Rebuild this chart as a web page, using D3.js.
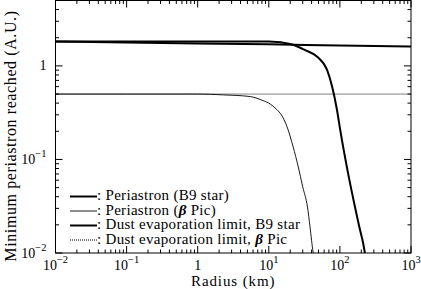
<!DOCTYPE html>
<html>
<head>
<meta charset="utf-8">
<script src="https://cdn.jsdelivr.net/npm/d3@7"></script>
<style>
body { margin: 0; background: #fff; overflow: hidden; }
svg { display: block; }
</style>
</head>
<body>
<div id="chart"></div>
<script>
// readings
var radB9   = [0.01, 0.1, 1, 5, 10, 13, 16, 22, 32, 48, 66, 78, 91, 101, 130, 163, 192, 212, 230];
var periB9  = [1.82, 1.82, 1.82, 1.82, 1.82, 1.80, 1.77, 1.68, 1.48, 1.25, 0.906, 0.595, 0.338, 0.207, 0.0718, 0.031, 0.0176, 0.0128, 0.009];

var radBP   = [0.01, 0.1, 1, 2.3, 5.5, 8, 10, 13, 15, 18, 22, 26, 30, 35, 38, 42, 45];
var periBP  = [0.5, 0.5, 0.5, 0.49, 0.47, 0.43, 0.40, 0.34, 0.30, 0.225, 0.136, 0.083, 0.051, 0.031, 0.019, 0.0102, 0.008];

var radDust    = [0.01, 0.1, 1, 10, 100, 1000];
var dustB9     = [1.82, 1.78, 1.74, 1.70, 1.65, 1.61];
var dustBP     = [0.5, 0.5, 0.5, 0.5, 0.5, 0.5];

var xTicks = [0.01, 0.1, 1, 10, 100, 1000];
var xExp   = ['-2', '-1', '', '1', '2', '3'];
var yTicks = [0.01, 0.1, 1];
var yExp   = ['-2', '-1', ''];

var legendLabels = [
	[': Periastron (B9 star)'],
	[': Periastron (', 'β', ' Pic)'],
	[': Dust evaporation limit, B9 star'],
	[': Dust evaporation limit, ', 'β', ' Pic']
];

var FONT = '"Liberation Serif", serif';

var margin = {top: 0.5, right: 10, bottom: 36, left: 55.5};
var width = 421 - margin.left - margin.right,
	height = 289 - margin.top - margin.bottom;

var svg = d3.select('#chart').append('svg')
	.attr('width', 421)
	.attr('height', 289)
	.style('font-family', FONT);

var g = svg.append('g')
	.attr('transform', 'translate(' + margin.left + ',' + margin.top + ')');

var x = d3.scaleLog().domain([0.01, 1000]).range([0, width]);
var y = d3.scaleLog().domain([0.01, 5]).range([height, 0]);

g.append('clipPath').attr('id', 'clip')
	.append('rect').attr('width', width).attr('height', height);

// ticks, inside, all four sides
var minorX = [], minorY = [];
for (var e = -2; e < 3; e++) {
	for (var k = 2; k < 10; k++) minorX.push(k * Math.pow(10, e));
}
for (var e = -2; e < 1; e++) {
	for (var k = 2; k < 10; k++) {
		if (k * Math.pow(10, e) <= 5) minorY.push(k * Math.pow(10, e));
	}
}

function ticksX(vals, len) {
	vals.forEach(function(v) {
		g.append('line').attr('x1', x(v)).attr('x2', x(v)).attr('y1', height).attr('y2', height - len)
			.attr('stroke', '#000');
		g.append('line').attr('x1', x(v)).attr('x2', x(v)).attr('y1', 0).attr('y2', len)
			.attr('stroke', '#000');
	});
}
function ticksY(vals, len) {
	vals.forEach(function(v) {
		g.append('line').attr('y1', y(v)).attr('y2', y(v)).attr('x1', 0).attr('x2', len)
			.attr('stroke', '#000');
		g.append('line').attr('y1', y(v)).attr('y2', y(v)).attr('x1', width).attr('x2', width - len)
			.attr('stroke', '#000');
	});
}
ticksX(xTicks, 7);
ticksX(minorX, 3.5);
ticksY(yTicks, 7);
ticksY(minorY, 3.5);

g.append('rect')
	.attr('width', width).attr('height', height)
	.attr('fill', 'none').attr('stroke', '#000').attr('stroke-width', 1);

// tick labels
xTicks.forEach(function(v, i) {
	var t = g.append('text')
		.attr('x', x(v))
		.attr('y', height + 17)
		.attr('text-anchor', 'middle')
		.style('font-size', '14px');
	t.append('tspan').text(xExp[i] ? '10' : '1');
	if (xExp[i]) t.append('tspan').attr('dy', -7).style('font-size', '10.5px').text(xExp[i].replace('-', '\u2212'));
});
yTicks.forEach(function(v, i) {
	var t = g.append('text')
		.attr('x', -9)
		.attr('y', y(v) + 4 + (yExp[i] ? 1 : 0))
		.attr('text-anchor', 'end')
		.style('font-size', '14px');
	t.append('tspan').text(yExp[i] ? '10' : '1');
	if (yExp[i]) t.append('tspan').attr('dy', -7).style('font-size', '10.5px').text(yExp[i].replace('-', '\u2212'));
});

svg.append('text')
	.attr('x', margin.left + width / 2)
	.attr('y', 285.5)
	.attr('text-anchor', 'middle')
	.style('font-size', '15px')
	.style('letter-spacing', '0.9px')
	.text('Radius (km)');

svg.append('text')
	.attr('transform', 'translate(16,136) rotate(-90)')
	.attr('text-anchor', 'middle')
	.style('font-size', '16px')
	.style('letter-spacing', '0.6px')
	.text('Minimum periastron reached (A.U.)');

// curves
var line = d3.line()
	.x(function(d) { return x(d[0]); })
	.y(function(d) { return y(d[1]); })
	.curve(d3.curveMonotoneX);

var series = [
	{r: radDust, p: dustB9, w: 2, dash: null, col: '#000'},
	{r: radDust, p: dustBP, w: 1, dash: '1,1', col: '#000'},
	{r: radB9, p: periB9, w: 2, dash: null, col: '#000'},
	{r: radBP, p: periBP, w: 0.9, dash: null, col: '#000'}
];

var curves = g.append('g').attr('clip-path', 'url(#clip)');
series.forEach(function(s) {
	curves.append('path')
		.datum(d3.zip(s.r, s.p))
		.attr('d', line)
		.attr('fill', 'none')
		.attr('stroke', s.col)
		.attr('stroke-width', s.w)
		.attr('stroke-dasharray', s.dash);
});

// legend
var legendStyle = [
	{w: 2, dash: null},
	{w: 0.9, dash: null},
	{w: 2, dash: null},
	{w: 1, dash: '1,1'}
];
legendLabels.forEach(function(parts, i) {
	var ly = 200 + i * 14.5;
	svg.append('line')
		.attr('x1', 70).attr('x2', 97)
		.attr('y1', ly - 3.5).attr('y2', ly - 3.5)
		.attr('stroke', '#000')
		.attr('stroke-width', legendStyle[i].w)
		.attr('stroke-dasharray', legendStyle[i].dash);
	var t = svg.append('text')
		.attr('x', 97).attr('y', ly)
		.style('font-size', '15px')
		.style('letter-spacing', '0.3px');
	parts.forEach(function(p) {
		var ts = t.append('tspan').text(p);
		if (p === 'β') ts.style('font-weight', 'bold').style('font-style', 'italic');
	});
});
</script>
</body>
</html>
